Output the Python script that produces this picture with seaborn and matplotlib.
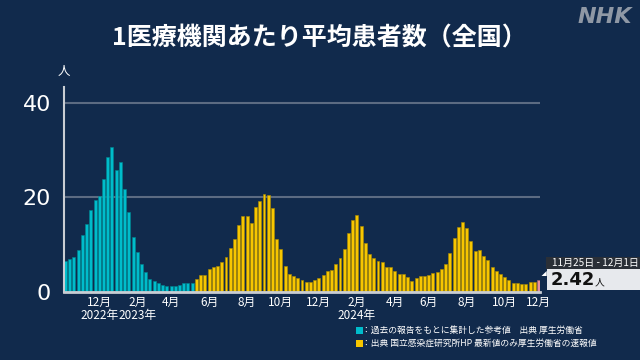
"""
1医療機関あたり平均患者数（全国） - weekly bar chart, NHK style
"""

import numpy as np
import pandas as pd
import seaborn as sns
import matplotlib.pyplot as plt
from matplotlib.patches import Rectangle, Polygon


# ---------------------------------------------------------------------
# Data
# ---------------------------------------------------------------------
FIRST_WEEK = "2022-10-03"

# 過去の報告をもとに集計した参考値 (2022-10-03 .. 2023-05-01)
reference_values = [
    6.6, 6.9, 7.3, 8.8, 11.9, 14.3, 17.2, 19.4, 20.3, 23.9,
    28.5, 30.6, 25.8, 27.4, 21.7, 16.9, 11.5, 8.4, 5.9, 4.1,
    2.7, 2.2, 1.8, 1.4, 1.3, 1.2, 1.3, 1.4, 1.8, 1.9, 1.9,
]

# 国立感染症研究所 定点報告 (2023-05-08 .. 2024-11-18)
sentinel_values = [
    2.7, 3.6, 3.6, 4.7, 5.2, 5.5, 6.2, 7.3, 9.3, 11.2,
    14.1, 16.0, 16.0, 14.6, 18.0, 19.2, 20.7, 20.4, 17.7, 11.1,
    9.0, 5.4, 3.8, 3.3, 2.9, 2.5, 2.1, 2.0, 2.4, 2.8,
    3.6, 4.3, 4.6, 5.9, 7.1, 9.1, 12.4, 15.1, 16.3, 13.9,
    10.3, 8.0, 7.1, 6.6, 6.2, 5.3, 5.2, 4.4, 3.8, 3.7,
    3.2, 2.3, 2.8, 3.3, 3.3, 3.5, 4.0, 4.2, 4.7, 5.9,
    8.1, 11.3, 13.8, 14.7, 13.4, 10.7, 8.6, 8.9, 7.6, 6.7,
    5.3, 4.4, 3.7, 3.1, 2.4, 1.9, 1.8, 1.6, 1.6, 2.1,
    2.0,
]

# 最新値 (厚生労働省の速報値, 2024-11-25 .. 2024-12-01)
latest_value = 2.42

y_ticks = [0, 20, 40]
tick_month_starts = pd.date_range("2022-12-01", "2024-12-01", freq="2MS")
year_labels = {"2022-12-01": "2022年", "2023-02-01": "2023年", "2024-02-01": "2024年"}

legend_texts = [
    "：過去の報告をもとに集計した参考値　出典 厚生労働省",
    "：出典 国立感染症研究所HP 最新値のみ厚生労働省の速報値",
]

# ---------------------------------------------------------------------
# Style
# ---------------------------------------------------------------------
BG = "#112a4c"
CYAN = "#00bccb"
YELLOW = "#f7c600"
PINK = "#e9909a"
GRID = "#5c6b82"
AXIS = "#c9cdd3"

sns.set_theme(style="white")
plt.rcParams["font.family"] = ["Noto Sans CJK JP", "DejaVu Sans"]

W, H = 640, 360


def fx(x):
    return x / W


def fy(y):
    return 1 - y / H


# ---------------------------------------------------------------------
# Build table
# ---------------------------------------------------------------------
values = reference_values + sentinel_values + [latest_value]
sources = (["ref"] * len(reference_values)
           + ["sentinel"] * len(sentinel_values)
           + ["latest"])
weeks = pd.date_range(FIRST_WEEK, periods=len(values), freq="7D")
df = pd.DataFrame({
    "week": weeks.strftime("%Y-%m-%d"),
    "value": values,
    "source": sources,
})

# ---------------------------------------------------------------------
# Plot
# ---------------------------------------------------------------------
fig = plt.figure(figsize=(6.4, 3.6), dpi=100, facecolor=BG)
ax = fig.add_axes([fx(63.6), fy(291.7), fx(540.4 - 63.6), (291.7 - 86.7) / H])
ax.set_facecolor(BG)

sns.barplot(
    data=df, x="week", y="value", hue="source",
    palette={"ref": CYAN, "sentinel": YELLOW, "latest": PINK},
    dodge=False, width=0.7, saturation=1, legend=False, ax=ax,
)
# thin darker outline on each bar
for patch in ax.patches:
    fc = patch.get_facecolor()
    patch.set_edgecolor(tuple(c * 0.7 for c in fc[:3]) + (1,))
    patch.set_linewidth(0.4)

ax.set_xlim(-0.45, len(values) - 1 + 0.45)
ax.set_ylim(0, 43.4)

# y axis
ax.set_yticks(y_ticks)
ax.set_yticklabels([str(t) for t in y_ticks], fontsize=16, color="white",
                   family="DejaVu Sans")
ax.tick_params(axis="y", length=6, width=1.5, color=GRID, pad=3)
ax.yaxis.grid(True, color=GRID, linewidth=1.5)
ax.xaxis.grid(False)
ax.set_axisbelow(True)

# x axis: month ticks at the week containing the 1st of the month
start = pd.Timestamp(FIRST_WEEK)
tick_pos = [(d - start).days // 7 for d in tick_month_starts]
tick_lab = []
for d in tick_month_starts:
    lab = f"{d.month}月"
    key = d.strftime("%Y-%m-%d")
    lab += "\n" + year_labels[key] if key in year_labels else "\n"
    tick_lab.append(lab)
ax.set_xticks(tick_pos)
ax.set_xticklabels(tick_lab, fontsize=8.5, color="white", linespacing=1.05)
ax.tick_params(axis="x", length=0, pad=3)
ax.set_xlabel("")
ax.set_ylabel("")

for side in ["top", "right"]:
    ax.spines[side].set_visible(False)
ax.spines["left"].set_color(AXIS)
ax.spines["left"].set_linewidth(1.5)
ax.spines["bottom"].set_color(AXIS)
ax.spines["bottom"].set_linewidth(2)

# unit label
fig.text(fx(64), fy(72), "人", fontsize=9, color="white", ha="center", va="center")

# title and logo
fig.text(fx(319), fy(38), "1医療機関あたり平均患者数（全国）", fontsize=18,
         fontweight="bold", color="white", ha="center", va="center")
fig.text(fx(632), fy(17), "NHK", fontsize=16, fontweight="heavy", style="italic",
         color="#8f98a5", ha="right", va="center", family="DejaVu Sans")

# legend
for i, (txt, col) in enumerate(zip(legend_texts, [CYAN, YELLOW])):
    y = 330.5 + i * 13
    fig.patches.append(Rectangle((fx(356), fy(y + 3.5)), fx(7), 7 / H,
                                 transform=fig.transFigure, facecolor=col,
                                 edgecolor="none"))
    fig.text(fx(362), fy(y), txt, fontsize=6.3, color="white",
             ha="left", va="center")

# latest value callout
d0 = weeks[-1]
d1 = d0 + pd.Timedelta(days=6)
fig.patches.append(Rectangle((fx(545.7), fy(269)), fx(640 - 545.7), 12.3 / H,
                             transform=fig.transFigure, facecolor="#2a2f37",
                             edgecolor="none"))
fig.text(fx(552), fy(262.5), f"{d0.month}月{d0.day}日 - {d1.month}月{d1.day}日",
         fontsize=7.2, color="white", ha="left", va="center")
fig.patches.append(Rectangle((fx(546.7), fy(290)), fx(640 - 546.7), 21 / H,
                             transform=fig.transFigure, facecolor="#e7e9ed",
                             edgecolor="none"))
fig.text(fx(551), fy(280), f"{latest_value:.2f}", fontsize=13, fontweight="bold",
         color="#111111", ha="left", va="center", family="DejaVu Sans")
fig.text(fx(595), fy(282.5), "人", fontsize=7, color="#111111",
         ha="left", va="center")
fig.patches.append(Polygon([(fx(541.5), fy(276)), (fx(546.7), fy(271)),
                            (fx(546.7), fy(276))], closed=True,
                           transform=fig.transFigure, facecolor="white",
                           edgecolor="none"))

fig.savefig("out.png", dpi=100, facecolor=BG)
